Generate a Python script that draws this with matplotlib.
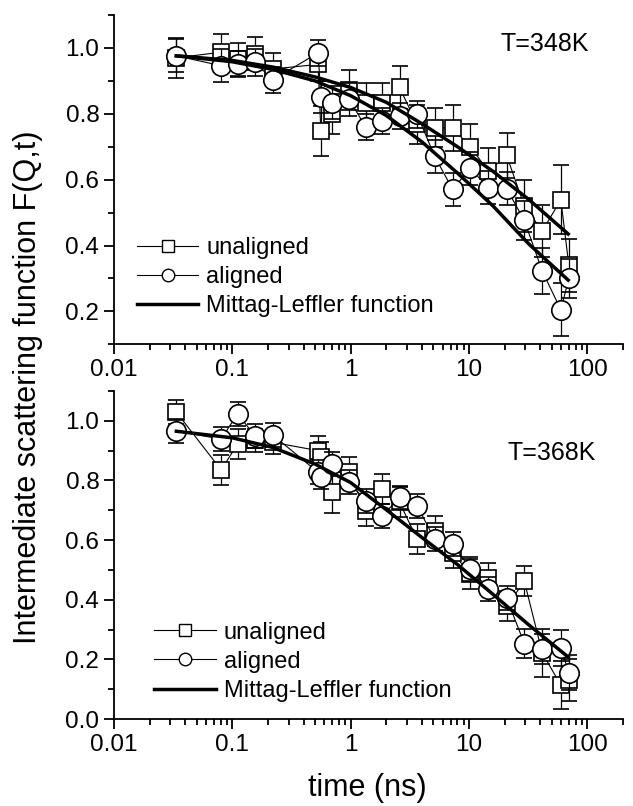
import matplotlib
matplotlib.use("Agg")
import matplotlib.pyplot as plt
from matplotlib.lines import Line2D
from matplotlib.ticker import MultipleLocator, FuncFormatter, LogLocator, NullFormatter

plt.rcParams['font.family'] = ['Liberation Sans', 'DejaVu Sans']

# time points (ns), shared by both temperatures
t = [0.0337, 0.0807, 0.111, 0.156, 0.219, 0.532, 0.56, 0.70, 0.97, 1.34, 1.85,
     2.59, 3.65, 5.13, 7.27, 10.3, 14.6, 20.8, 29.4, 41.7, 59.8, 69.9]

# T=348K
un348 = [0.97, 0.987, 0.965, 0.982, 0.936, 0.95, 0.748, 0.80, 0.873, 0.832, 0.834,
         0.88, 0.768, 0.758, 0.756, 0.70, 0.625, 0.674, 0.52, 0.444, 0.539, 0.34]
un348_err = [0.06, 0.054, 0.05, 0.05, 0.05, 0.05, 0.076, 0.06, 0.06, 0.06, 0.06,
             0.065, 0.06, 0.06, 0.07, 0.07, 0.07, 0.068, 0.08, 0.08, 0.104, 0.08]
al348 = [0.976, 0.946, 0.951, 0.956, 0.903, 0.985, 0.851, 0.834, 0.844, 0.760, 0.778,
         0.793, 0.798, 0.671, 0.571, 0.634, 0.575, 0.573, 0.476, 0.322, 0.205, 0.30]
al348_err = [0.05, 0.05, 0.04, 0.04, 0.04, 0.04, 0.05, 0.05, 0.05, 0.04, 0.04,
             0.04, 0.04, 0.05, 0.05, 0.05, 0.05, 0.05, 0.06, 0.07, 0.08, 0.06]

# T=368K
un368 = [1.029, 0.835, 0.923, 0.934, 0.928, 0.90, 0.88, 0.76, 0.827, 0.698, 0.771,
         0.727, 0.603, 0.631, 0.558, 0.485, 0.474, 0.378, 0.462, 0.221, 0.114, 0.131]
un368_err = [0.04, 0.05, 0.05, 0.04, 0.04, 0.05, 0.05, 0.07, 0.05, 0.05, 0.05,
             0.05, 0.05, 0.05, 0.05, 0.05, 0.05, 0.05, 0.05, 0.08, 0.08, 0.07]
al368 = [0.965, 0.939, 1.024, 0.948, 0.953, 0.827, 0.81, 0.855, 0.794, 0.732, 0.681,
         0.743, 0.715, 0.603, 0.586, 0.504, 0.437, 0.406, 0.253, 0.235, 0.238, 0.156]
al368_err = [0.04, 0.04, 0.04, 0.04, 0.04, 0.04, 0.04, 0.04, 0.04, 0.04, 0.04,
             0.04, 0.04, 0.04, 0.04, 0.04, 0.04, 0.04, 0.05, 0.05, 0.06, 0.06]

# Mittag-Leffler fits
fit_t = [0.0337, 0.1, 0.219, 0.5, 1.0, 2.0, 4.0, 8.0, 16.0, 32.0, 69.0]
fit_un348 = [0.976, 0.962, 0.942, 0.912, 0.88, 0.835, 0.77, 0.70, 0.625, 0.54, 0.435]
fit_al348 = [0.976, 0.958, 0.935, 0.90, 0.855, 0.795, 0.715, 0.62, 0.52, 0.405, 0.295]
fit_368 = [0.965, 0.943, 0.911, 0.855, 0.793, 0.702, 0.609, 0.518, 0.418, 0.316, 0.208]

fig = plt.figure(figsize=(6.33, 8.06), dpi=100)
ax1 = fig.add_axes([0.180, 0.5728, 0.804, 0.4086])
ax2 = fig.add_axes([0.180, 0.1079, 0.804, 0.4070])


def panel(ax, un, un_err, al, al_err, fits, ylim, label, lab_xy, leg_xy):
    ax.errorbar(t, un, yerr=un_err, fmt='-s', color='black', lw=0.8, ms=12,
                mfc='white', mec='black', mew=1.2, capsize=6, elinewidth=0.9,
                capthick=0.9, zorder=2)
    ax.errorbar(t, al, yerr=al_err, fmt='-o', color='black', lw=0.8, ms=14,
                mfc='white', mec='black', mew=1.2, capsize=6, elinewidth=0.9,
                capthick=0.9, zorder=3)
    for fy in fits:
        ax.plot(fit_t, fy, color='black', lw=2.5, zorder=4)
    ax.set_xscale('log')
    ax.set_xlim(0.01, 200)
    ax.set_ylim(*ylim)
    ax.xaxis.set_major_locator(LogLocator(base=10, numticks=10))
    ax.xaxis.set_minor_locator(LogLocator(base=10, subs=range(2, 10), numticks=20))
    ax.xaxis.set_minor_formatter(NullFormatter())
    ax.xaxis.set_major_formatter(FuncFormatter(lambda v, p: '%g' % v))
    ax.yaxis.set_major_locator(MultipleLocator(0.2))
    ax.yaxis.set_minor_locator(MultipleLocator(0.1))
    ax.yaxis.set_major_formatter(FuncFormatter(lambda v, p: '%.1f' % v))
    for s in ['top', 'right']:
        ax.spines[s].set_visible(False)
    for s in ['left', 'bottom']:
        ax.spines[s].set_linewidth(1.3)
    ax.tick_params(which='major', direction='out', length=7, width=1.3, labelsize=17.5)
    ax.tick_params(which='minor', direction='out', length=4, width=1.3)
    ax.text(lab_xy[0], lab_xy[1], label, transform=ax.transAxes, fontsize=18,
            ha='center', va='center')
    handles = [
        Line2D([], [], color='black', lw=0.8, marker='s', ms=8, mfc='white', mew=1.0),
        Line2D([], [], color='black', lw=0.8, marker='o', ms=9, mfc='white', mew=1.0),
        Line2D([], [], color='black', lw=2.5),
    ]
    ax.legend(handles, ['unaligned', 'aligned', 'Mittag-Leffler function'],
              loc='upper left', bbox_to_anchor=leg_xy, frameon=False, fontsize=17,
              borderpad=0, borderaxespad=0, handlelength=2.6, handletextpad=0.35,
              labelspacing=0.3)


panel(ax1, un348, un348_err, al348, al348_err,
      [fit_un348, fit_al348], (0.1, 1.1), 'T=348K',
      (0.847, 0.912), (0.045, 0.326))
panel(ax2, un368, un368_err, al368, al368_err,
      [fit_368], (0.0, 1.1), 'T=368K',
      (0.860, 0.811), (0.079, 0.297))

fig.text(0.044, 0.52, 'Intermediate scattering function F(Q,t)', rotation=90,
         ha='center', va='center', fontsize=22)
fig.text(0.581, 0.022, 'time (ns)', ha='center', va='center', fontsize=22)

fig.savefig('out.png', dpi=100)
